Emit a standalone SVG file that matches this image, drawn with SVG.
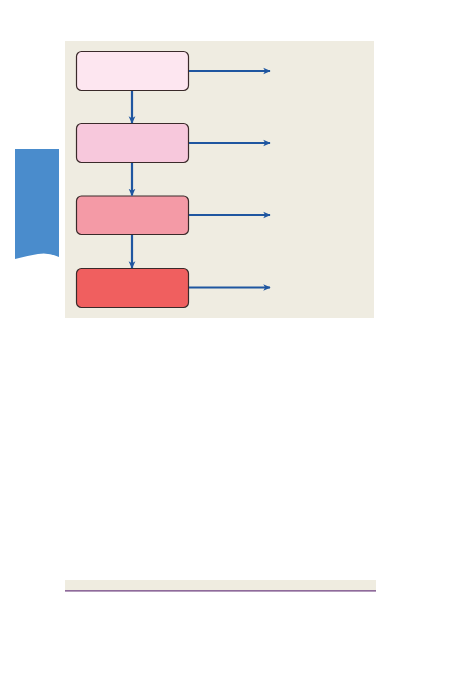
<svg xmlns="http://www.w3.org/2000/svg" width="453" height="680" viewBox="0 0 453 680">
<defs>
<marker id="ah" viewBox="0 0 10 10" refX="9" refY="5" markerWidth="3.4" markerHeight="3.4" orient="auto" markerUnits="strokeWidth">
<path d="M0,0.5 L10,5 L0,9.5 L2.5,5 z" fill="#1f56a0"/>
</marker>
<style>
.box{stroke:#3a2a2a;stroke-width:1.2}
.con{stroke:#1f56a0;stroke-width:2.2;fill:none;marker-end:url(#ah)}
</style>
</defs>
<rect x="0" y="0" width="453" height="680" fill="#ffffff"/>
<rect x="65" y="41" width="309" height="277" fill="#efece1"/>
<path d="M15,149 H59 V257 Q48,252 38,254 Q26,256 15,259 Z" fill="#4a8ccc"/>
<g id="n1"><rect class="box" x="76.5" y="51.5" width="112" height="39" rx="5" fill="#fde6f0"/></g>
<g id="n2"><rect class="box" x="76.5" y="123.5" width="112" height="39" rx="5" fill="#f7c8dc"/></g>
<g id="n3"><rect class="box" x="76.5" y="196" width="112" height="38.5" rx="5" fill="#f49aa6"/></g>
<g id="n4"><rect class="box" x="76.5" y="268.5" width="112" height="39" rx="5" fill="#f05f5f"/></g>
<g id="connectors">
<line class="con" x1="189" y1="71" x2="270" y2="71"/>
<line class="con" x1="189" y1="143" x2="270" y2="143"/>
<line class="con" x1="189" y1="215" x2="270" y2="215"/>
<line class="con" x1="189" y1="287.5" x2="270" y2="287.5"/>
<line class="con" x1="132" y1="91" x2="132" y2="123"/>
<line class="con" x1="132" y1="163" x2="132" y2="195.5"/>
<line class="con" x1="132" y1="235" x2="132" y2="268"/>
</g>
<rect x="65" y="580" width="311" height="10" fill="#efece0"/>
<line x1="65" y1="590.8" x2="376" y2="590.8" stroke="#6a3a7a" stroke-width="1.2"/>
</svg>
